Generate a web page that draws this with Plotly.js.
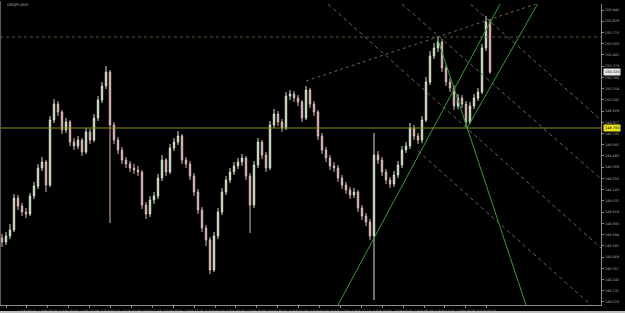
<!DOCTYPE html>
<html><head><meta charset="utf-8">
<script src="https://cdn.plot.ly/plotly-3.0.1.min.js"></script>
<style>html,body{margin:0;padding:0;background:#000;}#c{width:625px;height:313px;}</style>
</head><body><div id="c"></div>
<script>
const symbolTitle = "USDJPY,M15";
const opens = [148.66,148.62,148.68,148.74,149.06,148.98,148.92,148.90,149.08,149.18,149.36,149.42,149.19,149.84,150.00,149.92,149.74,149.82,149.62,149.58,149.64,149.52,149.72,149.64,149.86,150.04,150.18,150.32,149.79,149.64,149.54,149.44,149.40,149.36,149.34,149.32,148.99,148.90,149.04,149.08,149.26,149.44,149.32,149.56,149.62,149.68,149.44,149.40,149.28,149.12,148.94,148.76,148.64,148.34,148.68,148.92,149.12,149.24,149.32,149.38,149.42,149.46,149.28,148.99,149.39,149.62,149.49,149.36,149.79,149.90,149.82,149.76,150.08,150.10,150.06,150.02,149.86,150.14,150.00,149.92,149.68,149.54,149.46,149.38,149.36,149.26,149.19,149.14,149.09,149.12,148.96,148.88,148.82,148.68,149.49,149.44,149.32,149.24,149.20,149.29,149.39,149.54,149.58,149.76,149.68,149.64,149.84,150.22,150.48,150.56,150.62,150.36,150.22,150.16,149.98,150.06,150.00,149.82,149.98,150.06,150.12,150.56,150.82];
const closes = [148.62,148.68,148.74,149.06,148.98,148.92,148.90,149.08,149.18,149.36,149.42,149.19,149.84,150.00,149.92,149.74,149.82,149.62,149.58,149.64,149.52,149.72,149.64,149.86,150.04,150.18,150.32,149.79,149.64,149.54,149.44,149.40,149.36,149.34,149.32,148.99,148.90,149.04,149.08,149.26,149.44,149.32,149.56,149.62,149.68,149.44,149.40,149.28,149.12,148.94,148.76,148.64,148.34,148.68,148.92,149.12,149.24,149.32,149.38,149.42,149.46,149.28,148.99,149.39,149.62,149.49,149.36,149.79,149.90,149.82,149.76,150.08,150.10,150.06,150.02,149.86,150.14,150.00,149.92,149.68,149.54,149.46,149.38,149.36,149.26,149.19,149.14,149.09,149.12,148.96,148.88,148.82,148.68,149.49,149.44,149.32,149.24,149.20,149.29,149.39,149.54,149.58,149.76,149.68,149.64,149.84,150.22,150.48,150.56,150.62,150.36,150.22,150.16,149.98,150.06,150.00,149.82,149.98,150.06,150.12,150.56,150.82,150.32];
const highs = [148.70,148.72,148.80,149.10,149.09,149.01,148.96,149.11,149.22,149.40,149.47,149.44,149.88,150.05,150.03,149.94,149.86,149.84,149.66,149.68,149.66,149.76,149.75,149.90,150.08,150.22,150.38,150.34,149.82,149.67,149.57,149.47,149.43,149.40,149.38,149.34,149.02,149.08,149.12,149.30,149.49,149.46,149.60,149.66,149.73,149.70,149.47,149.43,149.31,149.15,148.97,148.79,148.67,148.72,148.96,149.16,149.28,149.36,149.42,149.46,149.50,149.48,149.31,149.43,149.66,149.64,149.52,149.83,149.95,149.93,149.85,150.12,150.14,150.13,150.09,150.04,150.18,150.16,150.03,149.94,149.71,149.57,149.49,149.42,149.39,149.29,149.22,149.17,149.16,149.14,148.99,148.91,148.85,149.71,149.53,149.47,149.35,149.27,149.33,149.43,149.58,149.62,149.81,149.79,149.71,149.88,150.27,150.53,150.61,150.68,150.65,150.39,150.26,150.19,150.10,150.09,150.03,150.02,150.10,150.16,150.60,150.88,150.85];
const lows = [148.57,148.59,148.65,148.72,148.94,148.88,148.86,148.88,149.05,149.15,149.33,149.12,149.17,149.81,149.88,149.70,149.71,149.58,149.54,149.55,149.48,149.50,149.60,149.62,149.83,150.01,150.15,148.81,149.60,149.50,149.40,149.36,149.32,149.30,149.28,148.95,148.85,148.87,149.00,149.05,149.23,149.28,149.30,149.53,149.59,149.40,149.36,149.24,149.08,148.90,148.72,148.58,148.30,148.32,148.65,148.89,149.09,149.21,149.29,149.35,149.38,149.24,148.71,148.96,149.36,149.45,149.32,149.34,149.76,149.78,149.72,149.74,150.04,150.02,149.98,149.82,149.84,149.96,149.88,149.64,149.50,149.42,149.34,149.32,149.22,149.15,149.10,149.05,149.06,148.92,148.84,148.78,148.64,148.04,149.40,149.28,149.20,149.16,149.17,149.26,149.36,149.51,149.55,149.64,149.60,149.61,149.82,150.19,150.45,150.52,150.32,150.18,150.12,149.94,149.95,149.96,149.77,149.80,149.95,150.03,150.10,150.53,150.30];
const timeLabels = ["1 Feb 2024","1 Feb 05:15","1 Feb 10:30","1 Feb 15:45","1 Feb 21:00","2 Feb 02:15","2 Feb 07:30","2 Feb 12:45","2 Feb 18:00","2 Feb 23:15","5 Feb 04:30","5 Feb 09:45","5 Feb 15:00","5 Feb 20:15","6 Feb 01:30","6 Feb 06:45","6 Feb 12:00","6 Feb 17:15","6 Feb 22:30","7 Feb 03:45","7 Feb 09:00","7 Feb 14:15","7 Feb 19:30","8 Feb 00:45"];
// trend lines as [barIndex0, price0, barIndex1, price1]
const greenLines = [[84,147.99,124.5,151.00],[116.25,149.76,133.9,151.00],[108.75,150.67,131,147.99]];
const grayLines = [[117.1,151.00,149.75,149.84],[100,151.00,149.75,149.25],[81.5,151.00,149.75,148.56],[104,149.53,147.25,147.99]];
const tanLines = [[76,150.23,133.5,151.00]];
const yellowLevel = 149.76;
const dottedLevel = 150.67;
const bidPrice = 150.32;

const idx = closes.map((_, i) => i);
const yMin = 147.99, yMax = 151.00;
const tickVals = [], tickText = [];
for (let k = 0; k < 27; k++) { const v = 150.94 - k * 0.1123; tickVals.push(v); tickText.push(v.toFixed(3)); }
const xTickVals = timeLabels.map((_, k) => (6 + 20.9 * k - 2) / 4);

const shapes = [];
greenLines.forEach(l => shapes.push({type:'line', xref:'x', yref:'y', x0:l[0], y0:l[1], x1:l[2], y1:l[3], line:{color:'#2fa02f', width:1}}));
grayLines.forEach(l => shapes.push({type:'line', xref:'x', yref:'y', x0:l[0], y0:l[1], x1:l[2], y1:l[3], line:{color:'#626262', width:1, dash:'4px,3px'}}));
tanLines.forEach(l => shapes.push({type:'line', xref:'x', yref:'y', x0:l[0], y0:l[1], x1:l[2], y1:l[3], line:{color:'#6e6444', width:1, dash:'dot'}}));
shapes.push({type:'line', xref:'paper', yref:'y', x0:0, x1:1, y0:yellowLevel, y1:yellowLevel, line:{color:'#8c8c22', width:1}});
shapes.push({type:'line', xref:'paper', yref:'y', x0:0, x1:1, y0:dottedLevel, y1:dottedLevel, line:{color:'#5e5a34', width:1, dash:'dot'}});
shapes.push({type:'line', xref:'paper', yref:'paper', x0:0.001, x1:0.001, y0:0, y1:1.01, line:{color:'#606060', width:1}});
shapes.push({type:'rect', xref:'paper', yref:'paper', x0:-0.01, x1:1.05, y0:-0.0266, y1:-0.0200, fillcolor:'#bdbdbd', line:{width:0}});

const annotations = [
  {xref:'paper', yref:'paper', x:0.008, y:1.0095, xanchor:'left', yanchor:'top', text:symbolTitle, showarrow:false, font:{family:'DejaVu Sans', size:3.5, color:'#bdbdbd'}},
  {xref:'paper', yref:'y', x:1.003, y:yellowLevel, xanchor:'left', yanchor:'middle', text:yellowLevel.toFixed(3), showarrow:false, bgcolor:'#e6e61e', borderpad:1, font:{family:'DejaVu Sans', size:3.5, color:'#000'}},
  {xref:'paper', yref:'y', x:1.003, y:bidPrice, xanchor:'left', yanchor:'middle', text:bidPrice.toFixed(3), showarrow:false, bgcolor:'#e8e8e8', borderpad:1, font:{family:'DejaVu Sans', size:3.5, color:'#000'}}
];

const trace = {
  type:'candlestick', x:idx, open:opens, high:highs, low:lows, close:closes,
  increasing:{line:{color:'#d2e2c8', width:1}, fillcolor:'#d2e2c8'},
  decreasing:{line:{color:'#dcb8b8', width:1}, fillcolor:'#dcb8b8'},
  whiskerwidth:0, hoverinfo:'skip', showlegend:false
};

const layout = {
  width:625, height:313,
  margin:{l:0, r:24, t:4, b:8, pad:0},
  paper_bgcolor:'#000', plot_bgcolor:'#000',
  showlegend:false, boxgap:0.5,
  xaxis:{range:[-0.5, 149.75], rangeslider:{visible:false}, showgrid:false, zeroline:false,
    showline:true, linecolor:'#8a8a8a', linewidth:1, ticks:'outside', ticklen:2, tickcolor:'#8a8a8a',
    tickvals:xTickVals, ticktext:timeLabels, tickangle:0,
    tickfont:{family:'DejaVu Sans', size:3.2, color:'#a0a0a0'}},
  yaxis:{range:[yMin, yMax], side:'right', showgrid:false, zeroline:false,
    showline:true, linecolor:'#8a8a8a', linewidth:1, ticks:'outside', ticklen:2, tickcolor:'#8a8a8a',
    tickvals:tickVals, ticktext:tickText,
    tickfont:{family:'DejaVu Sans', size:3.5, color:'#a0a0a0'}},
  shapes:shapes, annotations:annotations
};
Plotly.newPlot('c', [trace], layout, {displayModeBar:false, staticPlot:true});
</script></body></html>
